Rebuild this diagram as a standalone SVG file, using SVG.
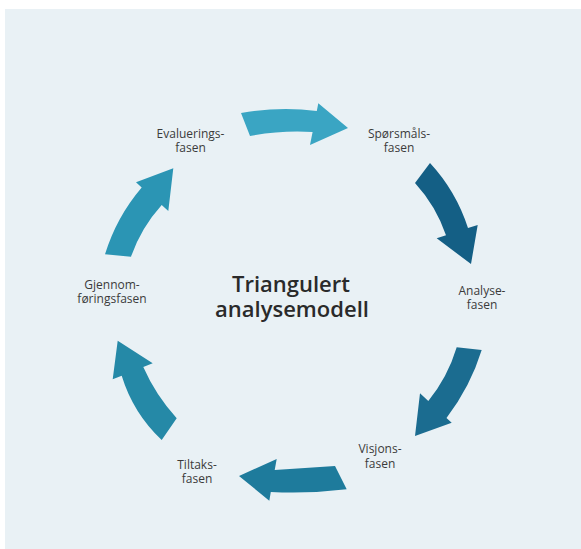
<svg xmlns="http://www.w3.org/2000/svg" width="581" height="549" viewBox="0 0 581 549">
  <style>
    .lbl { font-family: "Open Sans", "Liberation Sans", sans-serif; font-size: 12px; fill: #3b3b3b; text-anchor: middle; }
    .title { font-family: "Open Sans", "Liberation Sans", sans-serif; font-size: 22px; font-weight: 600; fill: #2a2a2a; text-anchor: middle; }
  </style>
  <rect x="5" y="9" width="576" height="540" fill="#e9f1f5"/>
  <g id="connectors">
    <path id="a1" fill="#3aa5c3" d="M241,113 Q280,106 316.8,111 L318.3,103.3 L348,128 L310,145 L312.6,132 Q282,130 250,136 Z"/>
    <path id="a2" fill="#145f85" d="M430,163 Q456,191 468,228 L477.7,225 L471,264 L436.7,238.3 L446,235.3 Q436,206 415,183 Z"/>
    <path id="a3" fill="#1b6c90" d="M481.7,350 Q470.4,386.7 446.5,417.9 L451.7,422.7 L415,436 L420,393.3 L428.3,401 Q447.8,377 456.7,347.3 Z"/>
    <path id="a4" fill="#1e7b9c" d="M335,466 Q305,468 274.7,470 L276.7,459 L239,476 L269.3,500.7 L270.8,492 Q308,494 346.7,489.3 Z"/>
    <path id="a5" fill="#2589a7" d="M161.7,440 Q133.2,413.2 121.7,375.7 L112.7,379.3 L117.7,340.7 L152.7,363.3 L143.3,367.1 Q155.8,395.4 176.7,418.3 Z"/>
    <path id="a6" fill="#2b95b4" d="M105,254.3 Q116.4,217.1 141.7,187.4 L136,182.3 L173.3,168.3 L168.3,211 L161.7,205.1 Q141.2,227.8 131,256.7 Z"/>
  </g>
  <g id="evaluering"><text class="lbl" x="190.5" y="138.3">Evaluerings-</text><text class="lbl" x="190.5" y="152">fasen</text></g>
  <g id="sporsmal"><text class="lbl" x="399" y="138.3">Spørsmåls-</text><text class="lbl" x="399" y="152">fasen</text></g>
  <g id="analyse"><text class="lbl" x="482" y="295">Analyse-</text><text class="lbl" x="482" y="309">fasen</text></g>
  <g id="visjon"><text class="lbl" x="380" y="453.3">Visjons-</text><text class="lbl" x="380" y="467.5">fasen</text></g>
  <g id="tiltak"><text class="lbl" x="197" y="469.3">Tiltaks-</text><text class="lbl" x="197" y="483.3">fasen</text></g>
  <g id="gjennomforing"><text class="lbl" x="112" y="289.3">Gjennom-</text><text class="lbl" x="112" y="303.3">føringsfasen</text></g>
  <g id="title"><text class="title" x="291" y="291.7">Triangulert</text><text class="title" x="292" y="316.7">analysemodell</text></g>
</svg>
